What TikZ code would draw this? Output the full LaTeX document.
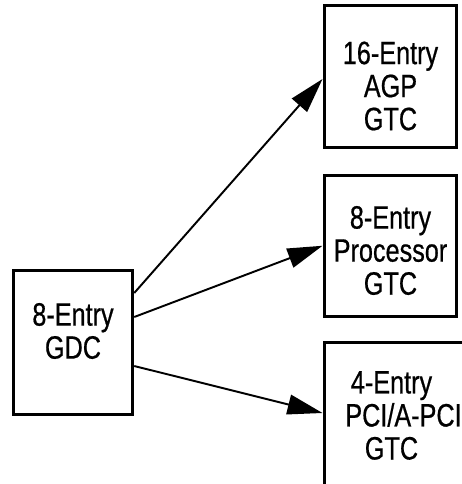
\documentclass[tikz,border=0pt]{standalone}
\usepackage{fontspec}
\setmainfont{Liberation Sans}[FakeStretch=0.78, FakeBold=0.6]
\usepackage{tikz}
\usetikzlibrary{arrows.meta,positioning,calc}

\begin{document}
\begin{tikzpicture}[x=0.02cm, y=-0.02cm,
      cachebox/.style={rectangle, draw=black, line width=1.7pt, inner sep=0pt},
      boxtext/.style={font=\fontsize{18.4pt}{18.8pt}\selectfont, align=center, text=black},
      arr/.style={-{Triangle[length=0.7cm, width=0.4cm]}, black, line width=1.1pt}
    ]
      \useasboundingbox (0,0) rectangle (461,484);
      \node[cachebox, minimum width=2.39cm, minimum height=2.9cm, label={[boxtext, yshift=0.23cm]center:8-Entry\\GDC}] (gdc) at (73,342.5) {};
      \node[cachebox, minimum width=2.66cm, minimum height=2.86cm, label={[boxtext, yshift=-0.19cm]center:16-Entry\\AGP\\GTC}] (agp) at (390.5,76.5) {};
      \node[cachebox, minimum width=2.66cm, minimum height=2.83cm, label={[boxtext, yshift=-0.095cm]center:8-Entry\\Processor\\GTC}] (proc) at (390.5,245.75) {};
      \node[cachebox, minimum width=2.92cm, minimum height=3.4cm, label={[boxtext, xshift=-0.11cm, yshift=0.23cm]center:4-Entry\\\hspace*{0.48cm}PCI/A-PCI\\GTC}] (pci) at (397,427) {};
      \draw[arr] ($(gdc.east)+(0,-49.5)$) -- ($(agp.west)+(0,2.5)$);
      \draw[arr] ($(gdc.east)+(0,-25.5)$) -- (proc.west);
      \draw[arr] ($(gdc.east)+(0,23.5)$) -- ($(pci.west)+(0,-14)$);
    \end{tikzpicture}
\end{document}
